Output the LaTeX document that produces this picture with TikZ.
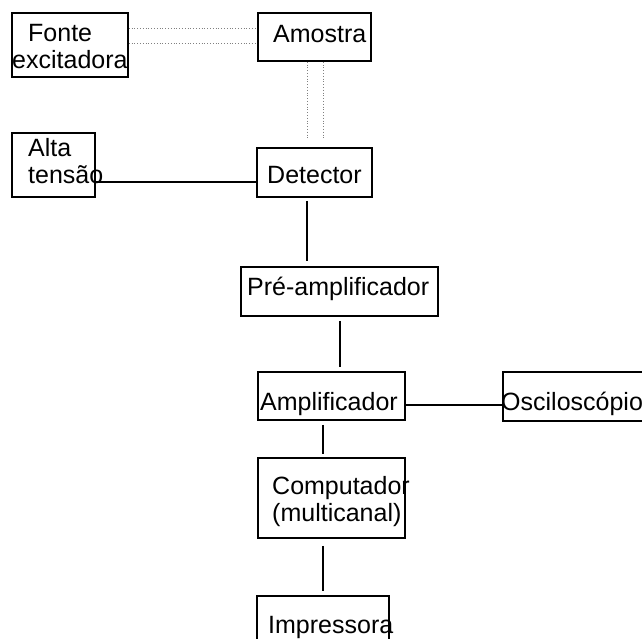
\documentclass[tikz,border=0pt]{standalone}
\usepackage{fontspec}
\setmainfont{Liberation Sans}
\begin{document}
\begin{tikzpicture}[x=1pt,y=-1pt,
    box/.style={draw,line width=1.5pt,inner sep=0pt},
    txt/.style={anchor=base west,align=left,inner sep=0pt,font=\fontsize{25}{27}\selectfont},
    wire/.style={line width=1.6pt},
    beam/.style={gray,dotted,line width=0.8pt}]
  \useasboundingbox (0,0) rectangle (642,639);

    \foreach \n/\x/\y/\w/\h in {fonte/70/45/116/64, amostra/314.5/37/113/48,
      alta/53.5/165/83/64, det/314.5/172.5/115/49, pre/339.5/291.5/197/49,
      amp/331.5/396/147/48, osc/581.5/396.5/157/49, comp/331.5/498/147/80,
      imp/323/638/132/84}
    \node[box,minimum width=\w pt,minimum height=\h pt] (\n) at (\x,\y) {};

    % multi-line labels sit on the baseline of their last line
    \foreach \n/\x/\y/\t in {tfonte/12/69/{\hspace*{16pt}Fonte\\excitadora},
      tamostra/273/43/Amostra, talta/28/183/{Alta\\tensão}, tdet/267/183/Detector,
      tpre/247/295/Pré-amplificador, tamp/260/410/Amplificador,
      tosc/501/410/Osciloscópio, tcomp/272/521/{Computador\\(multicanal)},
      timp/268/633/Impressora}
    \node[txt] (\n) at (\x,\y) {\t};

    \foreach \y in {28,43}
    \draw[beam] (fonte.east |- 0,\y) -- (amostra.west |- 0,\y);
    \foreach \x in {307,323}
    \draw[beam,shorten >=8pt] (amostra.south -| \x,0) -- (det.north -| \x,0);

    \draw[wire] (alta.east |- 0,182) -- (det.west |- 0,182);
    \draw[wire] (amp.east |- 0,405) -- (osc.west |- 0,405);

    \draw[wire,shorten <=3pt,shorten >=5pt] (det.south -| 307,0) -- (pre.north -| 307,0);
    \draw[wire,shorten <=4pt,shorten >=4pt] (pre.south -| 340,0) -- (amp.north -| 340,0);
    \draw[wire,shorten <=4pt,shorten >=3pt] (amp.south -| 323,0) -- (comp.north -| 323,0);
    \draw[wire,shorten <=7pt,shorten >=4pt] (comp.south -| 323,0) -- (imp.north -| 323,0);
  \end{tikzpicture}
\end{document}
